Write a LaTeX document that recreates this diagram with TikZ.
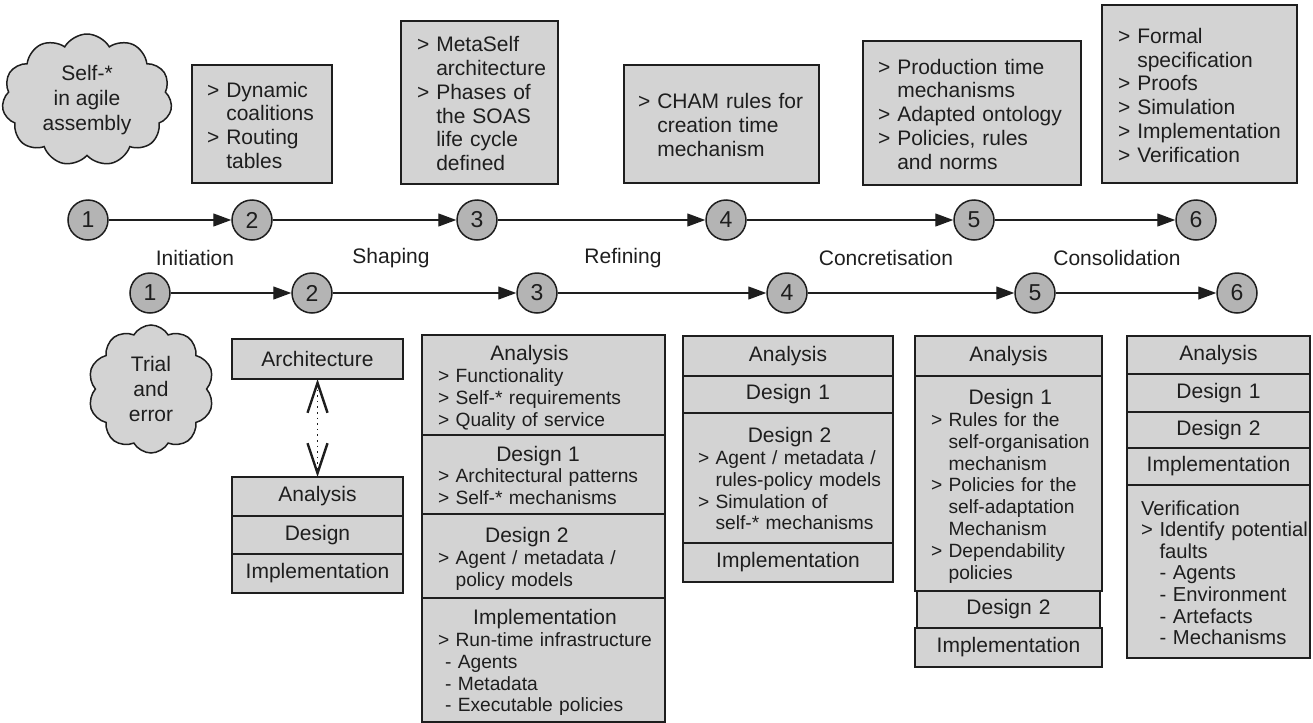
\documentclass[tikz,border=0pt]{standalone}
\usepackage{fontspec}
\setmainfont{Liberation Sans}
\usetikzlibrary{shapes.symbols,arrows.meta}

\definecolor{boxgray}{HTML}{D3D3D3}
\definecolor{dotgray}{HTML}{B4B4B4}
\definecolor{ink}{HTML}{1E1E1E}

% list of "> item" rows with hanging continuation lines (set slightly low in its box)
\newcommand\lst[1]{\raisebox{-2pt}[\height][\depth]{\begin{tabular}{@{}l@{\ }l@{}}#1\end{tabular}}}
\newcommand\hd[1]{\multicolumn{2}{@{}c@{}}{\fontsize{10.5}{10.9}\selectfont #1}}
\newcommand\dsh[1]{\multicolumn{2}{@{}l@{}}{\hspace{3.5pt}- #1}}

\tikzset{
  panel/.style={draw=ink, line width=0.75pt, fill=boxgray, inner ysep=0pt,
    outer sep=0pt, text=ink},
  lower/.style={font=\fontsize{9.6}{10.9}\selectfont, align=left},
  lowerwide/.style={font=\fontsize{10.1}{10.8}\selectfont, align=left},
  single/.style={font=\fontsize{10.5}{10.9}\selectfont, align=center},
  upper/.style={font=\fontsize{10.5}{11.9}\selectfont, align=left},
  stage/.style={circle, draw=ink, line width=0.75pt, fill=dotgray,
    minimum size=20pt, inner sep=0pt, text=ink,
    font=\fontsize{11.5}{11.5}\selectfont},
  flow/.style={draw=ink, line width=0.65pt, -{Triangle[length=9pt,width=6.5pt]}},
  phase/.style={text=ink, font=\fontsize{10.5}{12}\selectfont},
  thought/.style={cloud, cloud puffs=11, cloud puff arc=120, cloud ignores aspect,
    draw=ink, line width=0.75pt, fill=boxgray, inner sep=0pt, align=center,
    text=ink, font=\fontsize{10.5}{12.3}\selectfont},
  barb/.tip={Straight Barb[length=15pt,width=10pt,line width=1.2pt]},
}

% #1 name, #2 x1, #3 y1, #4 x2, #5 y2 (pixel grid), #6 side inset (px), #7 options, #8 text
\newcommand\panelnode[8]{%
  \pgfmathsetmacro\pw{(#4-#2)*0.5-#6}%
  \pgfmathsetmacro\ph{(#5-#3)*0.5}%
  \pgfmathsetmacro\px{#6*0.5}%
  \node[panel, text width=\pw pt, inner xsep=\px pt, minimum height=\ph pt, #7]
    (#1) at ({(#2+#4)/2},{(#3+#5)/2}) {#8};%
}

\begin{document}
\begin{tikzpicture}[x=0.5pt, y=-0.5pt]
\useasboundingbox (0,0) rectangle (1313,723);

% ---- clouds
\node[thought, minimum width=85pt, minimum height=66pt] (selfstar) at (87,100)
  {Self-*\\in agile\\assembly};
\node[thought, cloud puffs=10, minimum width=63pt, minimum height=64pt] (trial) at (151,389)
  {Trial\\and\\error};

% ---- upper row of outcome boxes
\panelnode{ua}{192}{65}{332}{183}{15}{upper}
  {\lst{> & Dynamic\\ & coalitions\\ > & Routing\\ & tables}}
\panelnode{ub}{401}{21}{558}{184}{16}{upper}
  {\lst{> & MetaSelf\\ & architecture\\ > & Phases of\\ & the SOAS\\ & life cycle\\ & defined}}
\panelnode{uc}{624}{65}{819}{183}{14}{upper}
  {\lst{> & CHAM rules for\\ & creation time\\ & mechanism}}
\panelnode{ud}{863}{41}{1081}{185}{15}{upper}
  {\lst{> & Production time\\ & mechanisms\\ > & Adapted ontology\\ > & Policies, rules\\ & and norms}}
\panelnode{ue}{1102}{5}{1297}{183}{16}{upper}
  {\lst{> & Formal\\ & specification\\ > & Proofs\\ > & Simulation\\ > & Implementation\\ > & Verification}}

% ---- two timelines
\foreach \n/\x in {1/88, 2/252, 3/477, 4/726, 5/974, 6/1196}
  \node[stage] (t\n) at (\x,220) {\n};
\foreach \n/\x in {1/150, 2/312, 3/537, 4/787, 5/1035, 6/1237}
  \node[stage] (b\n) at (\x,293) {\n};
\foreach \a/\b in {1/2, 2/3, 3/4, 4/5, 5/6} {
  \draw[flow] (t\a) -- (t\b);
  \draw[flow] (b\a) -- (b\b);
}

% ---- phase names
\node[phase] (initiation) at (195,258) {Initiation};
\node[phase] (shaping) at (391,258) {Shaping};
\node[phase] (refining) at (623,258) {Refining};
\node[phase] (concretisation) at (886,258) {Concretisation};
\node[phase] (consolidation) at (1117,258) {Consolidation};

% ---- column 2
\panelnode{arch}{232}{339}{403}{379}{8}{single}{Architecture}
\panelnode{ana2}{232}{477}{403}{516}{8}{single}{Analysis}
\panelnode{des2}{232}{516}{403}{554}{8}{single}{Design}
\panelnode{imp2}{232}{554}{403}{593}{8}{single}{Implementation}
\draw[ink, dotted, line width=0.8pt, barb-barb] (arch.south) -- (ana2.north);

% ---- column 3
\panelnode{ana3}{422}{335}{665}{435}{16}{lower}
  {\lst{\hd{Analysis}\\ > & Functionality\\ > & Self-* requirements\\ > & Quality of service}}
\panelnode{dsa3}{422}{435}{665}{514}{16}{lower}
  {\lst{\hd{Design 1}\\ > & Architectural patterns\\ > & Self-* mechanisms}}
\panelnode{dsb3}{422}{514}{665}{598}{16}{lower}
  {\lst{\hd{Design 2}\\ > & Agent / metadata /\\ & policy models}}
\panelnode{imp3}{422}{598}{665}{722}{16}{lower}
  {\lst{\hd{Implementation}\\ > & Run-time infrastructure\\ \dsh{Agents}\\ \dsh{Metadata}\\ \dsh{Executable policies}}}

% ---- column 4
\panelnode{ana4}{683}{336}{893}{376}{8}{single}{Analysis}
\panelnode{dsa4}{683}{376}{893}{413}{8}{single}{Design 1}
\panelnode{dsb4}{683}{413}{893}{543}{15}{lower}
  {\lst{\hd{Design 2}\\ > & Agent / metadata /\\ & rules-policy models\\ > & Simulation of\\ & self-* mechanisms}}
\panelnode{imp4}{683}{543}{893}{582}{8}{single}{Implementation}

% ---- column 5
\panelnode{ana5}{915}{336}{1102}{376}{8}{single}{Analysis}
\panelnode{dsa5}{915}{376}{1102}{591}{16}{lower}
  {\lst{\hd{Design 1}\\ > & Rules for the\\ & self-organisation\\ & mechanism\\ > & Policies for the\\ & self-adaptation\\ & Mechanism\\ > & Dependability\\ & policies}}
\panelnode{dsb5}{917}{591}{1100}{628}{8}{single}{Design 2}
\panelnode{imp5}{915}{628}{1102}{667}{8}{single}{Implementation}

% ---- column 6
\panelnode{ana6}{1127}{336}{1310}{374}{8}{single}{Analysis}
\panelnode{dsa6}{1127}{374}{1310}{412}{8}{single}{Design 1}
\panelnode{dsb6}{1127}{412}{1310}{448}{8}{single}{Design 2}
\panelnode{imp6}{1127}{448}{1310}{485}{8}{single}{Implementation}
\panelnode{ver6}{1127}{485}{1310}{658}{14}{lowerwide}
  {\lst{\multicolumn{2}{@{}l@{}}{Verification}\\ > & Identify potential\\ & faults\\ & - Agents\\ & - Environment\\ & - Artefacts\\ & - Mechanisms}}

\end{tikzpicture}
\end{document}
